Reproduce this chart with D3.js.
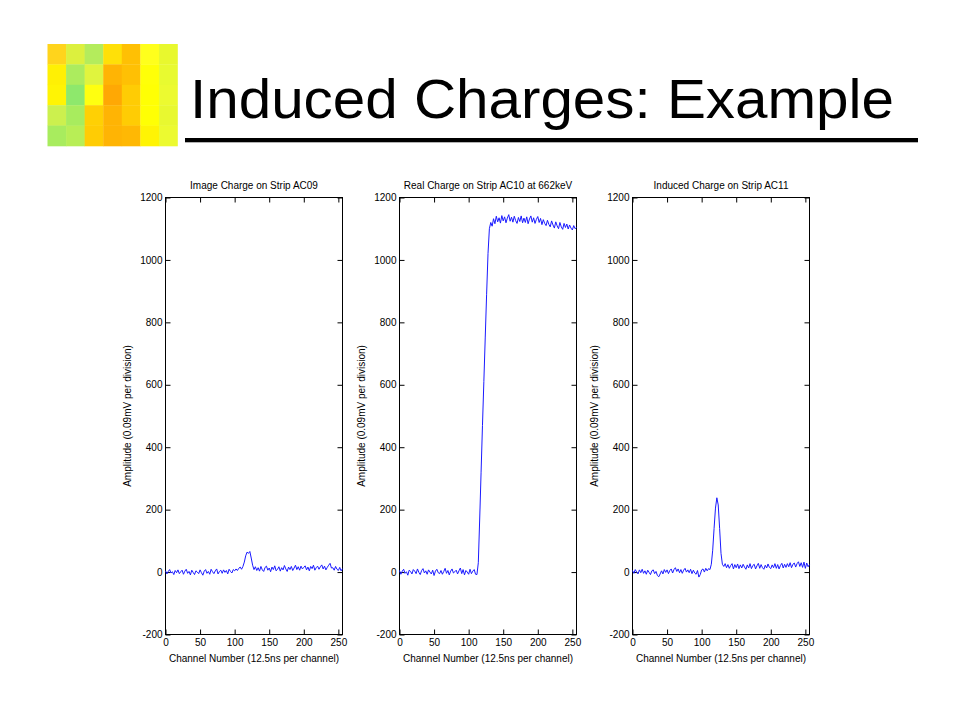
<!DOCTYPE html>
<html>
<head>
<meta charset="utf-8">
<script src="https://cdn.jsdelivr.net/npm/d3@7"></script>
<style>
  html, body { margin: 0; padding: 0; background: #fff; }
  svg { display: block; }
  text { font-family: Arial, "Liberation Sans", Helvetica, sans-serif; }
</style>
</head>
<body>
<svg id="chart" width="960" height="720"></svg>
<script>
// ---------------- DATA ----------------
const slideTitle = "Induced Charges: Example";
const panelTitles = ["Image Charge on Strip AC09", "Real Charge on Strip AC10 at 662keV", "Induced Charge on Strip AC11"];
const xLabel = "Channel Number (12.5ns per channel)";
const yLabel = "Amplitude (0.09mV per division)";
const xTicks = [0, 50, 100, 150, 200, 250];
const yTicks = [-200, 0, 200, 400, 600, 800, 1000, 1200];
const xDomain = [0, 256];
const yDomain = [-200, 1200];
// channels sampled every 2 (0..256)
const channels = d3.range(0, 257, 2);

const ac09 = [
  4, -6, 2, 8, -3, 1, -8, 5, -2, 7, -5,
  1, 6, -7, 3, 9, -4, 2, -9, 6, -1,
  -8, 4, 0, -5, 7, -2, -10, 3, 8, -4,
  2, -7, 9, 1, -5, 4, 10, -6, 2, 6,
  -4, 7, -1, 5, -6, 9, 2, -3, 8, 4,
  10, 5, 12, 16, 9, 18, 32, 52, 64, 60,
  66, 45, 22, 8, 17, 5, 14, 3, 18, 7,
  2, 15, 19, 6, 13, 1, 16, 8, 20, 4,
  9, 17, 3, 14, 7, 21, 10, 2, 16, 8,
  18, 5, 13, 22, 8, 17, 6, 19, 10, 15,
  20, 7, 16, 4, 18, 11, 22, 6, 14, 19,
  9, 17, 23, 10, 19, 7, 15, 22, 28, 13,
  14, 6, 18, 9, 5, 15, 4, 11
];
const ac10 = [
  5, -7, 3, 9, -4, 1, -10, 6, 2, -6, 8,
  3, -5, 10, -1, -8, 5, 11, -3, 4, -7,
  7, 0, -6, 6, -11, 3, 9, -2, -5, 5,
  -7, 2, 12, -4, 5, -9, 3, 10, -3, 1,
  6, -6, 4, 13, -5, 8, -9, 5, 0, -7,
  9, -5, 3, 8, -7, -8, 30, 170, 320, 470,
  610, 750, 890, 1020, 1100, 1120, 1108, 1132, 1116, 1140,
  1122, 1135, 1118, 1142, 1125, 1138, 1119, 1134, 1145, 1124,
  1137, 1121, 1140, 1126, 1117, 1136, 1123, 1141, 1119, 1134,
  1120, 1138, 1116, 1131, 1141, 1121, 1135, 1117, 1130, 1139,
  1120, 1133, 1113, 1129, 1117, 1110, 1127, 1114, 1106, 1125,
  1112, 1102, 1122, 1109, 1100, 1120, 1106, 1098, 1117, 1104,
  1115, 1099, 1112, 1102, 1096, 1110, 1100, 1104
];
const ac11 = [
  5, -4, 8, 0, -6, 7, -2, 9, -4, 4, -7,
  6, -1, -8, 4, 7, -5, 2, -11, -15, -6,
  4, -6, 8, -1, 7, -5, 5, 10, -3, 8,
  14, 2, 10, -2, 8, -4, 6, 12, 0, 7,
  -2, 9, -5, 6, -3, -7, 5, -16, -8, 7,
  10, 0, 12, 4, 11, 8, 25, 70, 140, 205,
  238, 215, 140, 60, 25, 18, 27, 14, 24, 12,
  21, 27, 10, 24, 14, 26, 11, 23, 13, 25,
  16, 9, 23, 13, 27, 11, 21, 25, 10, 20,
  28, 12, 24, 14, 9, 22, 13, 26, 15, 11,
  23, 14, 27, 12, 24, 10, 21, 28, 13, 25,
  15, 27, 17, 30, 14, 25, 29, 16, 27, 33,
  18, 30, 15, 32, 12, 29, 17, 24
];
const seriesList = [ac09, ac10, ac11];

// logo mosaic colours (5 rows x 7 cols)
const mosaicRows = [
  ["#ffd41c", "#dcf03e", "#b4ec5c", "#ffe008", "#ffc004", "#ffff1c", "#e8f82e"],
  ["#fff004", "#acec5e", "#e0f43e", "#ffb404", "#ffc004", "#ffff08", "#e8fa30"],
  ["#fff404", "#8ee86c", "#ffff10", "#ffa804", "#ffcc04", "#ffff04", "#ecfa30"],
  ["#ccf04e", "#a8ec5e", "#ffd004", "#ffb404", "#ffcc04", "#ffff04", "#e8f830"],
  ["#a8ec5e", "#b8ee56", "#ffcc04", "#ffb404", "#ffb804", "#fff404", "#ecfa30"]
];

// ---------------- DRAW ----------------
(function draw() {
const svg = d3.select("#chart");
svg.append("rect").attr("width", 960).attr("height", 720).attr("fill", "#fff");

// mosaic
const mx = d3.scaleBand().domain(d3.range(7)).range([47.5, 177.5]);
const my = d3.scaleBand().domain(d3.range(5)).range([44, 146]);
mosaicRows.forEach((row, r) => {
  svg.selectAll(null).data(row).enter().append("rect")
    .attr("x", (d, c) => mx(c)).attr("y", my(r))
    .attr("width", mx.bandwidth() + 0.3).attr("height", my.bandwidth() + 0.3)
    .attr("fill", d => d);
});

// slide title
svg.append("text")
  .attr("x", 190).attr("y", 117.5)
  .attr("font-size", 55)
  .attr("textLength", 704).attr("lengthAdjust", "spacingAndGlyphs")
  .attr("fill", "#000")
  .text(slideTitle);
svg.append("rect").attr("x", 185).attr("y", 138).attr("width", 733).attr("height", 4.3).attr("fill", "#000");

// panels
const panelLefts = [165.5, 399.5, 632.5];
const panelWidth = 177;
const plotTop = 197.5, plotBottom = 634.5;
const line = (x, y) => d3.line().x((d, i) => x(channels[i])).y(d => y(d));
const plainFmt = d => String(d);

panelLefts.forEach((left, p) => {
  const x = d3.scaleLinear().domain(xDomain).range([left, left + panelWidth]);
  const y = d3.scaleLinear().domain(yDomain).range([plotBottom, plotTop]);
  const g = svg.append("g");

  // box
  g.append("rect").attr("x", left).attr("y", plotTop)
    .attr("width", panelWidth).attr("height", plotBottom - plotTop)
    .attr("fill", "none").attr("stroke", "#000").attr("stroke-width", 1);

  const styleAxis = sel => {
    sel.select(".domain").remove();
    sel.selectAll("line").attr("stroke", "#000");
    sel.selectAll("text").attr("font-size", 10).attr("fill", "#000")
      .attr("font-family", "Arial, 'Liberation Sans', sans-serif");
  };

  g.append("g").attr("transform", `translate(${left},0)`)
    .call(d3.axisLeft(y).tickValues(yTicks).tickSizeInner(-5).tickSizeOuter(0).tickPadding(3).tickFormat(plainFmt))
    .call(styleAxis);
  g.append("g").attr("transform", `translate(${left + panelWidth},0)`)
    .call(d3.axisRight(y).tickValues(yTicks).tickSizeInner(-5).tickSizeOuter(0).tickFormat(""))
    .call(styleAxis);
  g.append("g").attr("transform", `translate(0,${plotBottom})`)
    .call(d3.axisBottom(x).tickValues(xTicks).tickSizeInner(-5).tickSizeOuter(0).tickPadding(4).tickFormat(plainFmt))
    .call(styleAxis);
  g.append("g").attr("transform", `translate(0,${plotTop})`)
    .call(d3.axisTop(x).tickValues(xTicks).tickSizeInner(-5).tickSizeOuter(0).tickFormat(""))
    .call(styleAxis);

  // trace
  g.append("path").datum(seriesList[p])
    .attr("d", line(x, y))
    .attr("fill", "none").attr("stroke", "#1a1aff").attr("stroke-width", 1);

  // panel title
  g.append("text").attr("x", left + panelWidth / 2).attr("y", 189)
    .attr("text-anchor", "middle").attr("font-size", 10).attr("fill", "#000")
    .text(panelTitles[p]);
  // x label
  g.append("text").attr("x", left + panelWidth / 2).attr("y", 662)
    .attr("text-anchor", "middle").attr("font-size", 10).attr("fill", "#000")
    .text(xLabel);
  // y label
  g.append("text")
    .attr("transform", `translate(${left - 35},${(plotTop + plotBottom) / 2}) rotate(-90)`)
    .attr("text-anchor", "middle").attr("font-size", 10).attr("fill", "#000")
    .text(yLabel);
});
})();
</script>
</body>
</html>
